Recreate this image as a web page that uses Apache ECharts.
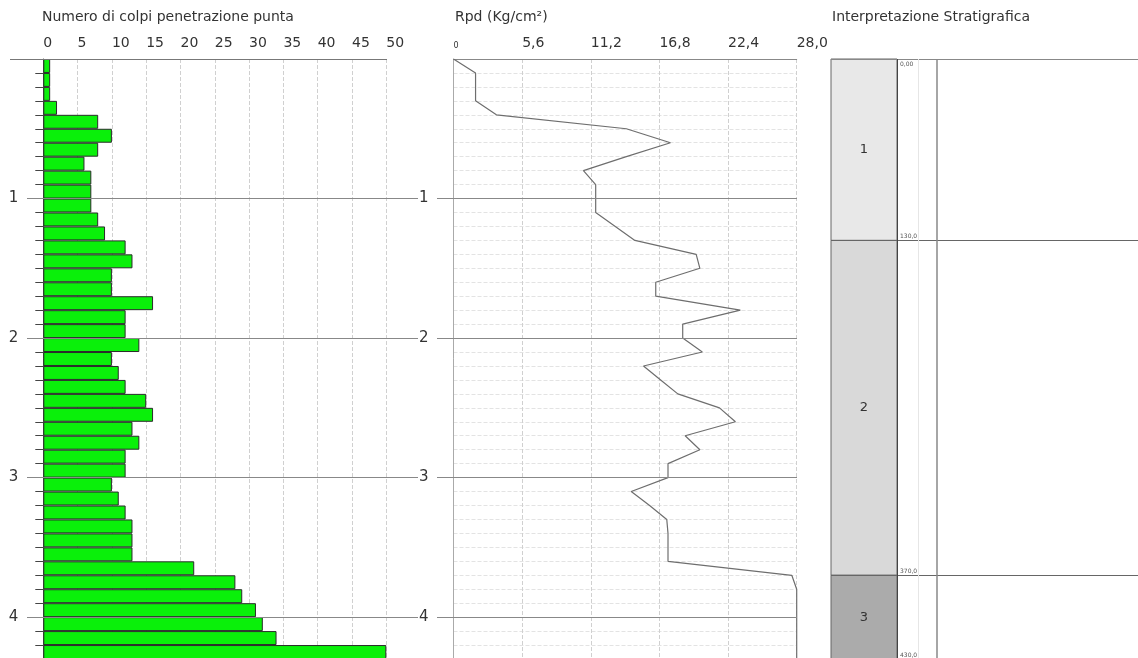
<!DOCTYPE html>
<html>
<head>
<meta charset="utf-8">
<script src="https://cdn.jsdelivr.net/npm/echarts@6/dist/echarts.min.js"></script>
<style>
html,body{margin:0;padding:0;background:#fff;}
#c{width:1138px;height:658px;}
</style>
</head>
<body>
<div id="c"></div>
<script>
// ---------- DATA ----------
// depth intervals (m), 10 cm each
const intervalLabels = [];
for (let i = 0; i < 43; i++) intervalLabels.push((i/10).toFixed(1) + '-' + ((i+1)/10).toFixed(1));
// number of blows per 10 cm (Numero di colpi penetrazione punta)
const blowCounts = [1,1,1,2,8,10,8,6,7,7, 7,8,9,12,13,10,10,16,12,12, 14,10,11,12,15,16,13,14,12,12, 10,11,12,13,13,13,22,28,29,31, 32,34,50];
// Rpd (Kg/cm²) at each depth (m)
const rpdDepths = [0,0.1,0.2,0.3,0.4,0.5,0.6,0.7,0.8,0.9, 1.0,1.1,1.2,1.3,1.4,1.5,1.6,1.7,1.8,1.9, 2.0,2.1,2.2,2.3,2.4,2.5,2.6,2.7,2.8,2.9, 3.0,3.1,3.2,3.3,3.4,3.5,3.6,3.7,3.8,3.9, 4.0,4.1,4.2,4.3];
const rpdValues = [0,1.8,1.8,1.8,3.5,14.1,17.7,14.1,10.6,11.6, 11.6,11.6,13.2,14.8,19.8,20.1,16.5,16.5,23.4,18.7, 18.7,20.3,15.5,16.9,18.3,21.7,23.0,18.9,20.1,17.5, 17.5,14.5,16.0,17.4,17.5,17.5,17.5,27.6,28,28, 28,28,28,28];
// major depth lines (m)
const majorDepths = [1,2,3,4];
// stratigraphic layers (cm)
const layerNames = ['1','2','3'];
const layerTops = [0,130,370];
const layerBottoms = [130,370,430];
const boundaryLabels = ['0,00','130,0','370,0','430,0'];
// axis tick settings
const blowTicks = {min:0, max:50, interval:5};
const rpdTicks = {min:0, max:28, interval:5.6};

// ---------- STYLE / LAYOUT ----------
const FONT = 'DejaVu Sans';
const TOP = 59, H = 600;
const layerColors = ['#e8e8e8','#d9d9d9','#ababab'];
const STRAT_W = 307, COL_W = 66, LIGHT_X = 87, SEP_X = 106;

const intLabel = v => { const r = Math.round(v); return (Math.abs(v-r) < 1e-6 && r > 0) ? String(r) : ''; };
const hiddenX = (g) => ({type:'value', gridIndex:g, min:0, max:1, show:false});
const hiddenY = (g) => ({type:'value', gridIndex:g, min:0, max:4.3, inverse:true, show:false});
const titleStyle = {fontFamily:FONT, fontSize:14, fontWeight:'normal', color:'#333'};

const chart = echarts.init(document.getElementById('c'), null, {renderer:'canvas'});

const stratData = layerNames.map((n,i) => [layerTops[i], layerBottoms[i], i]);

const option = {
  animation:false,
  backgroundColor:'#fff',
  textStyle:{fontFamily:FONT},
  title:[
    {text:'Numero di colpi penetrazione punta', left:42, top:10, padding:0, textStyle:titleStyle},
    {text:'Rpd (Kg/cm²)', left:455, top:10, padding:0, textStyle:titleStyle},
    {text:'Interpretazione Stratigrafica', left:832, top:10, padding:0, textStyle:titleStyle}
  ],
  grid:[
    {left:43.3, top:TOP, width:343, height:H, outerBoundsMode:'none', containLabel:false},
    {left:453.5, top:TOP, width:343.2, height:H, outerBoundsMode:'none', containLabel:false},
    {left:10, top:TOP, width:377, height:H, outerBoundsMode:'none', containLabel:false},
    {left:27, top:TOP, width:391, height:H, outerBoundsMode:'none', containLabel:false},
    {left:437, top:TOP, width:360, height:H, outerBoundsMode:'none', containLabel:false},
    {left:831, top:TOP, width:STRAT_W, height:H, outerBoundsMode:'none', containLabel:false}
  ],
  xAxis:[
    {type:'value', gridIndex:0, position:'top', min:blowTicks.min, max:blowTicks.max, interval:blowTicks.interval,
     axisLine:{show:false}, axisTick:{show:false},
     axisLabel:{align:'left', margin:9, fontSize:14, color:'#333', fontFamily:FONT},
     splitLine:{show:true, lineStyle:{type:'dashed', color:'#d0d0d0'}}},
    {type:'value', gridIndex:1, position:'top', min:rpdTicks.min, max:rpdTicks.max, interval:rpdTicks.interval,
     axisLine:{show:true, onZero:false, lineStyle:{color:'#888'}}, axisTick:{show:false},
     axisLabel:{align:'left', margin:9, fontSize:14, color:'#333', fontFamily:FONT,
       formatter: v => v === 0 ? '{s|0}' : v.toFixed(1).replace('.', ','),
       rich:{s:{fontSize:8, color:'#333', fontFamily:FONT}}},
     splitLine:{show:true, lineStyle:{type:'dashed', color:'#d0d0d0'}}},
    hiddenX(2), hiddenX(3), hiddenX(4),
    {type:'value', gridIndex:5, min:0, max:STRAT_W, show:false}
  ],
  yAxis:[
    {type:'category', gridIndex:0, data:intervalLabels, inverse:true, show:false},
    {type:'value', gridIndex:0, min:0, max:4.3, interval:0.1, inverse:true, position:'left',
     axisLine:{show:true, onZero:false, lineStyle:{color:'#555'}},
     axisTick:{show:true, length:8, lineStyle:{color:'#444'}},
     axisLabel:{formatter:intLabel, margin:25, fontSize:15, color:'#333', fontFamily:FONT},
     splitLine:{show:false}},
    {type:'value', gridIndex:1, min:0, max:4.3, interval:0.1, inverse:true, position:'left',
     axisLine:{show:true, onZero:false, lineStyle:{color:'#aaa'}},
     axisTick:{show:false},
     axisLabel:{formatter:intLabel, margin:25, fontSize:15, color:'#333', fontFamily:FONT},
     splitLine:{show:true, lineStyle:{type:'dashed', color:'#e3e3e3'}}},
    hiddenY(2), hiddenY(3), hiddenY(4),
    {type:'value', gridIndex:5, min:0, max:430, inverse:true, show:false}
  ],
  series:[
    {type:'bar', xAxisIndex:0, yAxisIndex:0, data:blowCounts, barWidth:'100%',
     itemStyle:{color:'#0af00a', borderColor:'#2a2a2a', borderWidth:1}},
    {type:'line', xAxisIndex:1, yAxisIndex:2, data:rpdValues.map((v,i)=>[v, rpdDepths[i]]),
     showSymbol:false, symbol:'none', lineStyle:{color:'#6e6e6e', width:1.2}, clip:true, silent:true},
    {type:'line', xAxisIndex:2, yAxisIndex:3, data:[], silent:true,
     markLine:{symbol:'none', silent:true, label:{show:false}, lineStyle:{color:'#777', type:'solid', width:1}, data:[{yAxis:0}]}},
    {type:'line', xAxisIndex:3, yAxisIndex:4, data:[], silent:true,
     markLine:{symbol:'none', silent:true, label:{show:false}, lineStyle:{color:'#888', type:'solid', width:1}, data:majorDepths.map(d=>({yAxis:d}))}},
    {type:'line', xAxisIndex:4, yAxisIndex:5, data:[], silent:true,
     markLine:{symbol:'none', silent:true, label:{show:false}, lineStyle:{color:'#888', type:'solid', width:1}, data:majorDepths.map(d=>({yAxis:d}))}},
    {type:'custom', xAxisIndex:5, yAxisIndex:6, data:stratData, silent:true,
     renderItem:(params, api) => {
       const top = api.value(0), bot = api.value(1), idx = api.value(2);
       const p0 = api.coord([0, top]), p1 = api.coord([COL_W, bot]);
       const children = [
         {type:'rect', shape:{x:p0[0], y:p0[1], width:p1[0]-p0[0], height:p1[1]-p0[1]},
          style:{fill:layerColors[idx], stroke:'#666', lineWidth:1}},
         {type:'text', style:{text:layerNames[idx], x:(p0[0]+p1[0])/2, y:(p0[1]+p1[1])/2, align:'center', verticalAlign:'middle',
          font:'13px "DejaVu Sans"', fill:'#333'}},
         {type:'text', style:{text:boundaryLabels[idx], x:p1[0]+3, y:idx===0 ? p0[1]+2 : p0[1]-1, align:'left',
          verticalAlign: idx===0 ? 'top' : 'bottom', font:'6px "DejaVu Sans"', fill:'#555'}}
       ];
       if (idx === layerNames.length-1) {
         children.push({type:'text', style:{text:boundaryLabels[idx+1], x:p1[0]+3, y:p1[1]-1, align:'left', verticalAlign:'bottom',
           font:'6px "DejaVu Sans"', fill:'#555'}});
       }
       return {type:'group', children};
     }},
    {type:'line', xAxisIndex:5, yAxisIndex:6, data:[], silent:true,
     markLine:{symbol:'none', silent:true, label:{show:false}, lineStyle:{type:'solid', color:'#666', width:1.2},
       data:[
         {yAxis:layerTops[0], lineStyle:{color:'#888', width:1}},
         {yAxis:layerTops[1]},
         {yAxis:layerTops[2]},
         {xAxis:COL_W, lineStyle:{color:'#444', width:1}},
         {xAxis:LIGHT_X, lineStyle:{color:'#e6e6e6', width:1}},
         {xAxis:SEP_X, lineStyle:{color:'#888', width:1.5}}
       ]}}
  ]
};
chart.setOption(option);
</script>
</body>
</html>
